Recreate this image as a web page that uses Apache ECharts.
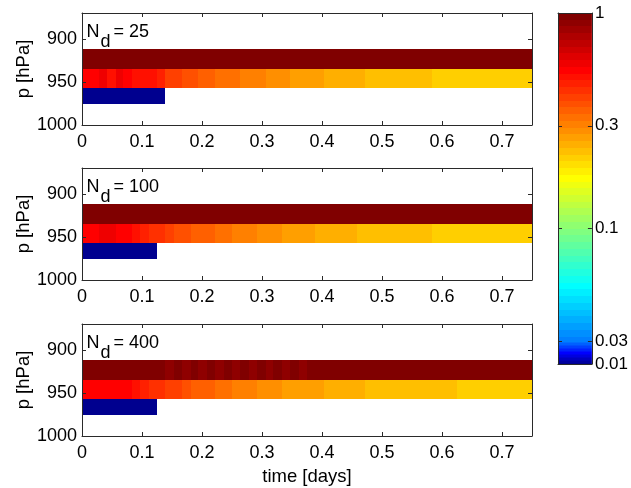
<!DOCTYPE html>
<html><head><meta charset="utf-8">
<script src="https://cdn.jsdelivr.net/npm/echarts@6/dist/echarts.min.js"></script>
<style>html,body{margin:0;padding:0;background:#fff}#c{width:631px;height:488px}</style>
</head><body><div id="c"></div>
<script>
// ---------------- data ----------------
const panelLabels = ['25', '100', '400'];
const xTicks = [0, 0.1, 0.2, 0.3, 0.4, 0.5, 0.6, 0.7];
const yTicks = [900, 950, 1000];
const levelEdges = [912, 935, 957, 976];          // hPa: boundaries of the 3 layers (top, middle, bottom)
const cbTickValues = [0.0236, 0.03, 0.1, 0.3, 1]; // colour-bar tick positions (bottom edge ... top)
const cbTickLabels = ['0.01', '0.03', '0.1', '0.3', '1'];
const cmapRange = [0.01, 1];                      // jet colormap spans this range (log), bar bottom is compressed

// N_d = 25
const nd25TopT = [0, 0.75];
const nd25TopV = [1.0];
const nd25MidT = [0, 0.028, 0.042, 0.056, 0.069, 0.083, 0.111, 0.125, 0.139, 0.167, 0.194, 0.222, 0.264, 0.306, 0.347, 0.403, 0.472, 0.583, 0.75];
const nd25MidV = [0.54, 0.58, 0.50, 0.58, 0.54, 0.50, 0.50, 0.47, 0.41, 0.38, 0.35, 0.33, 0.305, 0.285, 0.265, 0.245, 0.23, 0.213];
const nd25BotT = [0, 0.139];
const nd25BotV = [0.01];

// N_d = 100
const nd100TopT = [0, 0.75];
const nd100TopV = [1.0];
const nd100MidT = [0, 0.028, 0.056, 0.083, 0.097, 0.111, 0.139, 0.153, 0.181, 0.222, 0.25, 0.292, 0.333, 0.389, 0.458, 0.583, 0.75];
const nd100MidV = [0.54, 0.58, 0.54, 0.50, 0.47, 0.44, 0.41, 0.38, 0.35, 0.33, 0.305, 0.285, 0.265, 0.245, 0.23, 0.213];
const nd100BotT = [0, 0.125];
const nd100BotV = [0.01];

// N_d = 400
const nd400TopT = [0, 0.139, 0.153, 0.167, 0.181, 0.194, 0.208, 0.222, 0.236, 0.25, 0.264, 0.278, 0.292, 0.306, 0.319, 0.333, 0.347, 0.361, 0.375, 0.75];
const nd400TopV = [1, 0.9, 1, 0.9, 1, 0.9, 1, 0.9, 1, 0.9, 1, 0.9, 1, 0.9, 1, 0.9, 1, 0.9, 1];
const nd400MidT = [0, 0.083, 0.097, 0.111, 0.139, 0.167, 0.181, 0.222, 0.25, 0.292, 0.333, 0.403, 0.472, 0.625, 0.75];
const nd400MidV = [0.54, 0.50, 0.47, 0.44, 0.41, 0.38, 0.35, 0.33, 0.305, 0.285, 0.265, 0.245, 0.23, 0.213];
const nd400BotT = [0, 0.125];
const nd400BotV = [0.01];

// ---------------- helpers ----------------
const panels = [
  [[nd25TopT, nd25TopV], [nd25MidT, nd25MidV], [nd25BotT, nd25BotV]],
  [[nd100TopT, nd100TopV], [nd100MidT, nd100MidV], [nd100BotT, nd100BotV]],
  [[nd400TopT, nd400TopV], [nd400MidT, nd400MidV], [nd400BotT, nd400BotV]]
];
const NC = 64;
const clamp = (v, a, b) => Math.max(a, Math.min(b, v));
function jet(i) { // MATLAB jet(64), i = 1..64
  const r = clamp(Math.min((i - 24) / 16, (72 - i) / 16), 0, 1);
  const g = clamp(Math.min((i - 8) / 16, (56 - i) / 16), 0, 1);
  const b = clamp(Math.min((i + 8) / 16, (40 - i) / 16), 0, 1);
  return 'rgb(' + Math.round(r * 255) + ',' + Math.round(g * 255) + ',' + Math.round(b * 255) + ')';
}
const cbLogMin = Math.log10(cbTickValues[0]);
const cbLogMax = Math.log10(cbTickValues[cbTickValues.length - 1]);
const cmLogMin = Math.log10(cmapRange[0]), cmLogMax = Math.log10(cmapRange[1]);
const L03 = Math.log10(cbTickValues[1]);
const c03 = (L03 - cmLogMin) / (cmLogMax - cmLogMin);
function logToC(L) {   // axis value (log10) -> colormap fraction
  return L >= L03 ? (L - cmLogMin) / (cmLogMax - cmLogMin) : c03 * (L - cbLogMin) / (L03 - cbLogMin);
}
function cToLog(c) {   // inverse
  return c >= c03 ? cmLogMin + c * (cmLogMax - cmLogMin) : cbLogMin + (c / c03) * (L03 - cbLogMin);
}
function colorOf(v) {
  const k = clamp(Math.floor(logToC(Math.log10(v)) * NC), 0, NC - 1);
  return jet(k + 1);
}

const AX = '#2a2a2a';
const FONT = 'Liberation Sans, Arial, Helvetica, sans-serif';
const gridTops = [13, 168, 324];
const gridH = 112;

const grids = [], xAxes = [], yAxes = [], series = [], graphics = [];

function cellRender(params, api) {
  const p0 = api.coord([api.value(0), api.value(2)]);
  const p1 = api.coord([api.value(1), api.value(3)]);
  const x0 = Math.round(Math.min(p0[0], p1[0])), x1 = Math.round(Math.max(p0[0], p1[0]));
  const y0 = Math.round(Math.min(p0[1], p1[1])), y1 = Math.round(Math.max(p0[1], p1[1]));
  return { type: 'rect', shape: { x: x0, y: y0, width: x1 - x0, height: y1 - y0 },
           style: { fill: colorOf(api.value(4)) } };
}

panels.forEach((layers, pi) => {
  grids.push({ left: 82, top: gridTops[pi], width: 450, height: gridH });
  const common = { type: 'value', gridIndex: pi, min: 0, max: 0.75, z: 5,
    axisLine: { show: true, onZero: false, lineStyle: { color: AX, width: 1 } },
    splitLine: { show: false } };
  xAxes.push(Object.assign({}, common, {
    position: 'bottom',
    axisTick: { show: true, inside: true, length: 4, customValues: xTicks, lineStyle: { color: AX } },
    axisLabel: { show: true, customValues: xTicks, fontSize: 18, color: '#000', fontFamily: FONT, margin: 8,
                 formatter: v => String(+v.toFixed(2)) },
    name: pi === 2 ? 'time [days]' : '', nameLocation: 'middle', nameGap: 31, nameMoveOverlap: false,
    nameTextStyle: { fontSize: 18.5, color: '#000', fontFamily: FONT }
  }));
  xAxes.push(Object.assign({}, common, {
    position: 'top',
    axisTick: { show: true, inside: true, length: 4, customValues: xTicks, lineStyle: { color: AX } },
    axisLabel: { show: false }
  }));
  const ycommon = { type: 'value', gridIndex: pi, min: 870, max: 1000, inverse: true, z: 5,
    axisLine: { show: true, onZero: false, lineStyle: { color: AX, width: 1 } },
    splitLine: { show: false },
    axisTick: { show: true, inside: true, length: 4, customValues: yTicks, lineStyle: { color: AX } } };
  yAxes.push(Object.assign({}, ycommon, {
    position: 'left',
    axisLabel: { show: true, customValues: yTicks, fontSize: 18, color: '#000', fontFamily: FONT, margin: 5,
                 formatter: v => String(v) },
    name: 'p [hPa]', nameLocation: 'middle', nameGap: 49, nameRotate: 90, nameMoveOverlap: false,
    nameTextStyle: { fontSize: 18.5, color: '#000', fontFamily: FONT }
  }));
  yAxes.push(Object.assign({}, ycommon, { position: 'right', axisLabel: { show: false } }));

  const data = [];
  layers.forEach(([tEdges, vals], li) => {
    for (let k = 0; k < vals.length; k++) {
      data.push([tEdges[k], tEdges[k + 1], levelEdges[li], levelEdges[li + 1], vals[k]]);
    }
  });
  series.push({ type: 'custom', xAxisIndex: 2 * pi, yAxisIndex: 2 * pi, renderItem: cellRender,
                encode: { x: [0, 1], y: [2, 3] }, data: data, silent: true, z: 2 });

  const T = gridTops[pi];
  const ts = { fontSize: 18, fontFamily: FONT, fill: '#000', textVerticalAlign: 'middle', verticalAlign: 'middle' };
  graphics.push({ type: 'text', x: 86.5, y: T + 19, style: Object.assign({ text: 'N' }, ts) });
  graphics.push({ type: 'text', x: 100.5, y: T + 29, style: Object.assign({ text: 'd' }, ts) });
  graphics.push({ type: 'text', x: 113.5, y: T + 19, style: Object.assign({ text: '= ' + panelLabels[pi] }, ts) });
});

// ---------------- colour bar ----------------
grids.push({ left: 558, top: 13, width: 35, height: 351 });
const cbTickPos = cbTickValues.map(v => Math.log10(v));
const cbFormatter = val => {
  let best = 0;
  cbTickPos.forEach((p, i) => { if (Math.abs(p - val) < Math.abs(cbTickPos[best] - val)) best = i; });
  return cbTickLabels[best];
};
['bottom', 'top'].forEach(pos => xAxes.push({ type: 'value', gridIndex: 3, min: 0, max: 1, position: pos, z: 5,
  axisLine: { show: true, onZero: false, lineStyle: { color: AX } }, axisTick: { show: false },
  axisLabel: { show: false }, splitLine: { show: false } }));
['left', 'right'].forEach(pos => yAxes.push({ type: 'value', gridIndex: 3, min: cbLogMin, max: cbLogMax, position: pos, z: 5,
  axisLine: { show: true, onZero: false, lineStyle: { color: AX } },
  axisTick: { show: true, inside: true, length: 4, customValues: cbTickPos, lineStyle: { color: AX } },
  axisLabel: { show: pos === 'right', customValues: cbTickPos, formatter: cbFormatter, fontSize: 17,
               color: '#000', fontFamily: FONT, margin: 3 },
  splitLine: { show: false } }));
const cbData = [];
for (let k = 0; k < NC; k++) cbData.push([k]);
series.push({ type: 'custom', xAxisIndex: 6, yAxisIndex: 6, silent: true, z: 2, data: cbData,
  encode: { y: 0 },
  renderItem: (params, api) => {
    const k = api.value(0);
    const lo = cToLog(k / NC), hi = cToLog((k + 1) / NC);
    const p0 = api.coord([0, lo]), p1 = api.coord([1, hi]);
    const y0 = Math.round(Math.min(p0[1], p1[1])), y1 = Math.round(Math.max(p0[1], p1[1]));
    return { type: 'rect', shape: { x: p0[0], y: y0, width: p1[0] - p0[0], height: y1 - y0 },
             style: { fill: jet(k + 1) } };
  } });

const chart = echarts.init(document.getElementById('c'), null, { renderer: 'canvas', width: 631, height: 488 });
chart.setOption({
  animation: false,
  backgroundColor: '#fff',
  textStyle: { fontFamily: FONT },
  grid: grids, xAxis: xAxes, yAxis: yAxes, series: series, graphic: graphics
});
</script></body></html>
